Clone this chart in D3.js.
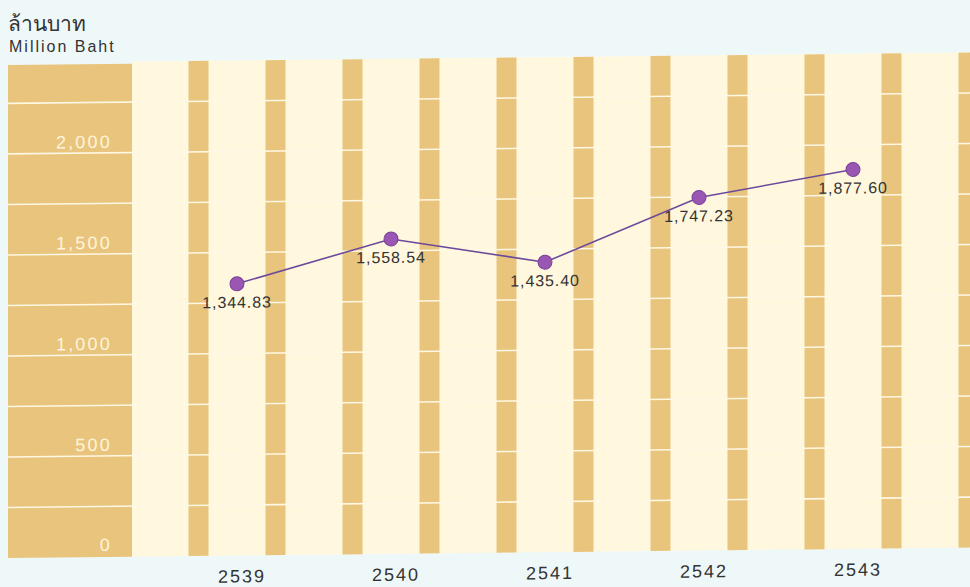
<!DOCTYPE html>
<html><head><meta charset="utf-8">
<script src="https://cdn.jsdelivr.net/npm/d3@7"></script>
<style>html,body{margin:0;padding:0;background:#eff8f9;}svg{display:block;}</style>
</head><body>
<script>
const years = ["2539","2540","2541","2542","2543"];
const values = [1344.83, 1558.54, 1435.40, 1747.23, 1877.60];
const valueLabels = ["1,344.83","1,558.54","1,435.40","1,747.23","1,877.60"];
const yTicks = [0, 500, 1000, 1500, 2000];
const yGrid = [250, 500, 750, 1000, 1250, 1500, 1750, 2000, 2250];
const titleTh = "ล้านบาท";
const titleEn = "Million Baht";

const W = 970, H = 587;
const mLeft = 8, axisRight = 132, mTop = 63, mBottom = 558;
const svg = d3.select("body").append("svg").attr("width", W).attr("height", H);
svg.append("rect").attr("width", W).attr("height", H).attr("fill", "#eff8f9");
const g = svg.append("g").attr("transform", `translate(${mLeft},0) skewY(-0.62) translate(${-mLeft},0)`);

const y = d3.scaleLinear().domain([0, 2450]).range([mBottom, mTop]);
const x = d3.scalePoint().domain(years).range([237, 853]);
const step = x.step();

// plot background
g.append("rect").attr("x", axisRight).attr("y", mTop).attr("width", W + 40 - axisRight).attr("height", mBottom - mTop).attr("fill", "#fff8de");
// axis block
g.append("rect").attr("x", mLeft).attr("y", mTop + 2).attr("width", axisRight - mLeft).attr("height", mBottom - mTop - 2).attr("fill", "#e8c47d");

// stripes
const stripeX = [];
years.forEach(d => { stripeX.push(x(d) - step / 4); stripeX.push(x(d) + step / 4); });
stripeX.push(x(years[years.length - 1]) + step * 3 / 4);
g.selectAll("rect.stripe").data(stripeX).enter().append("rect")
  .attr("class", "stripe").attr("x", d => d - 10).attr("y", mTop).attr("width", 20)
  .attr("height", mBottom - mTop).attr("fill", "#e8c47d");

// gridlines
g.selectAll("line.grid").data(yGrid).enter().append("line")
  .attr("x1", mLeft).attr("x2", W + 40).attr("y1", d => y(d)).attr("y2", d => y(d))
  .attr("stroke", "#fff8e4").attr("stroke-width", 1.6);

// y tick labels
g.selectAll("text.ytick").data(yTicks).enter().append("text")
  .attr("x", 112).attr("y", d => d === 0 ? y(d) - 6 : y(d) - 5)
  .attr("text-anchor", "end").attr("fill", "#fff5dc")
  .attr("font-family", "Liberation Sans, Arial, sans-serif").attr("font-size", 18)
  .attr("letter-spacing", 2.2)
  .text(d => d3.format(",")(d));

// x labels
g.selectAll("text.xtick").data(years).enter().append("text")
  .attr("x", d => x(d) + 5).attr("y", mBottom + 27).attr("text-anchor", "middle")
  .attr("fill", "#333").attr("font-family", "Liberation Sans, Arial, sans-serif")
  .attr("font-size", 18).attr("letter-spacing", 2).text(d => d);

// line
const pts = years.map((d, i) => [x(d), y(values[i])]);
g.append("path").attr("d", d3.line()(pts)).attr("fill", "none")
  .attr("stroke", "#6b4a9c").attr("stroke-width", 1.6);
g.selectAll("circle.pt").data(pts).enter().append("circle")
  .attr("cx", d => d[0]).attr("cy", d => d[1]).attr("r", 7)
  .attr("fill", "#9a56b3").attr("stroke", "#7a3f96").attr("stroke-width", 1);

// value labels
g.selectAll("text.val").data(pts).enter().append("text")
  .attr("x", d => d[0]).attr("y", d => d[1] + 24).attr("text-anchor", "middle")
  .attr("fill", "#333").attr("font-family", "Liberation Sans, Arial, sans-serif")
  .attr("font-size", 16).attr("letter-spacing", 0.9).text((d, i) => valueLabels[i]);

// titles
svg.append("text").attr("x", 8).attr("y", 31).attr("fill", "#333")
  .attr("font-family", "Noto Sans, sans-serif").attr("font-size", 21).text(titleTh);
svg.append("text").attr("x", 9).attr("y", 52).attr("fill", "#333")
  .attr("font-family", "Liberation Sans, Arial, sans-serif").attr("font-size", 16)
  .attr("letter-spacing", 2).text(titleEn);
</script>
</body></html>
